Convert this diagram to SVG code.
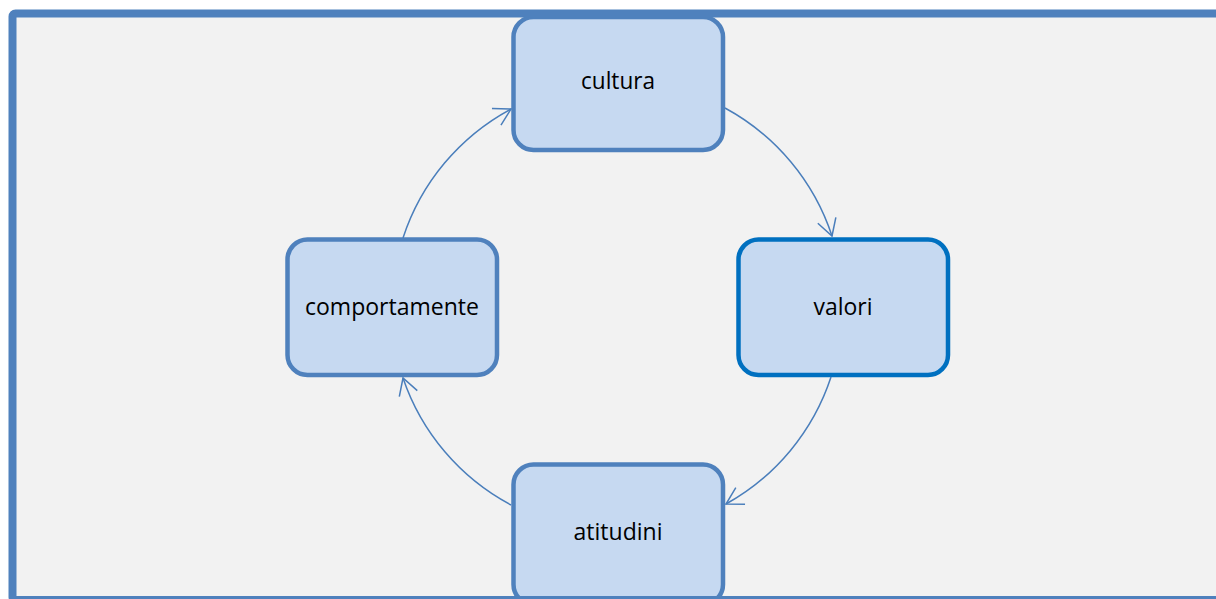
<svg xmlns="http://www.w3.org/2000/svg" width="1216" height="599" viewBox="0 0 1216 599">
  <style>
    .box { fill: #c6d9f1; stroke: #4f81bd; stroke-width: 4.5; }
    .box.accent { stroke: #0070c0; }
    .label { font-family: "Open Sans", "Liberation Sans", sans-serif; font-size: 23px; fill: #000; text-anchor: middle; }
    .link { fill: none; stroke: #4a7ebb; stroke-width: 1.5; marker-end: url(#open-arrow); }
  </style>
  <defs>
    <marker id="open-arrow" markerUnits="userSpaceOnUse" markerWidth="24" markerHeight="24" viewBox="-20 -12 24 24" refX="0" refY="0" orient="auto">
      <path d="M-16.5,-9.5 L0,0 L-16.5,9.5" fill="none" stroke="#4a7ebb" stroke-width="1.5"/>
    </marker>
  </defs>

  <!-- background panel -->
  <rect x="12.5" y="13.5" width="1220" height="586.5" rx="3" fill="#f2f2f2"/>

  <g id="node-cultura">
    <rect class="box" x="513.5" y="17" width="209.5" height="133" rx="20"/>
    <text class="label" x="618" y="89" textLength="74" lengthAdjust="spacingAndGlyphs">cultura</text>
  </g>
  <g id="node-valori">
    <rect class="box accent" x="738.5" y="239.5" width="209.5" height="135.5" rx="20"/>
    <text class="label" x="843" y="315" textLength="59" lengthAdjust="spacingAndGlyphs">valori</text>
  </g>
  <g id="node-comportamente">
    <rect class="box" x="287.5" y="239.5" width="209.5" height="135.5" rx="20"/>
    <text class="label" x="392" y="315" textLength="174" lengthAdjust="spacingAndGlyphs">comportamente</text>
  </g>
  <g id="node-atitudini">
    <rect class="box" x="513.5" y="464.5" width="209.5" height="140" rx="20"/>
    <text class="label" x="618" y="540" textLength="89" lengthAdjust="spacingAndGlyphs">atitudini</text>
  </g>

  <g id="connectors">
    <path class="link" d="M725,108 A226,226 0 0 1 832,236"/>
    <path class="link" d="M831,377 A226,226 0 0 1 726,504"/>
    <path class="link" d="M511,505 A226,226 0 0 1 403,378"/>
    <path class="link" d="M403,238 A226,226 0 0 1 511,109"/>
  </g>

  <!-- panel border drawn over the boxes it crosses -->
  <rect x="12.5" y="13.5" width="1220" height="586.5" rx="3" fill="none" stroke="#4f81bd" stroke-width="8"/>
</svg>
